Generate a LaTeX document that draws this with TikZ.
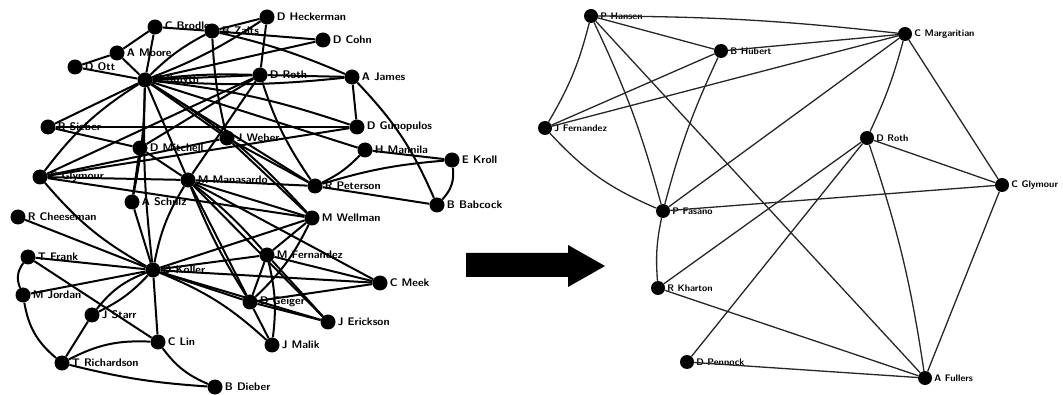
\documentclass[tikz,border=0pt]{standalone}
\usepackage{tikz}
\usetikzlibrary{positioning,calc}

\begin{document}
\begin{tikzpicture}[x=1pt,y=-1pt]
            \tikzstyle{vert}=[circle, fill=black,
            inner sep=0pt, minimum width=15pt]
            \tikzstyle{lft}=[line width=2pt, black]
            \tikzstyle{rgt}=[line width=1.3pt, black!85]
            \tikzstyle{every label}=[font=\fontsize{11}{12}\selectfont\sffamily\bfseries,
            inner sep=1pt, label distance=1pt]
            \useasboundingbox (0,0) rectangle (1063,395);
            % left network
            \node[vert, label=right:C Brodley]   (cb) at (155,27) {};
            \node[vert, label=right:B Zalts]     (bz) at (212,31) {};
            \node[vert, label=right:D Heckerman] (dh) at (267,17) {};
            \node[vert, label=right:D Cohn]      (dc) at (323,40) {};
            \node[vert, label=right:A Moore]     (aa) at (117,53) {};
            \node[vert, label=right:D Ott]       (do) at (75,67) {};
            \node[vert, label=right:P Smyth]     (h1) at (145,80) {};
            \node[vert, label=right:D Roth]      (dr) at (260,75) {};
            \node[vert, label=right:A James]     (aj) at (352,77) {};
            \node[vert, label=right:R Sieber]    (rs) at (48,127) {};
            \node[vert, label=right:D Mitchell]  (dm) at (140,148) {};
            \node[vert, label=right:J Weber]     (jw) at (227,138) {};
            \node[vert, label=right:D Gunopulos] (dg) at (357,127) {};
            \node[vert, label=right:H Mannila]   (hm) at (365,150) {};
            \node[vert, label=right:E Kroll]     (ek) at (452,160) {};
            \node[vert, label=right:B Babcock]   (bb) at (437,205) {};
            \node[vert, label=right:C Glymour]   (cg) at (40,177) {};
            \node[vert, label=right:M Manasardo] (h2) at (188,180) {};
            \node[vert, label=right:A Schulz]    (as) at (132,202) {};
            \node[vert, label=right:R Peterson]  (rp) at (315,186) {};
            \node[vert, label=right:R Cheeseman] (rc) at (18,217) {};
            \node[vert, label=right:M Wellman]   (mw) at (312,218) {};
            \node[vert, label=right:T Frank]     (tf) at (28,257) {};
            \node[vert, label=right:D Koller]    (h3) at (153,270) {};
            \node[vert, label=right:M Fernandez] (mf) at (267,255) {};
            \node[vert, label=right:C Meek]      (cm) at (380,283) {};
            \node[vert, label=right:M Jordan]    (mj) at (23,295) {};
            \node[vert, label=right:D Geiger]    (dx) at (250,302) {};
            \node[vert, label=right:J Erickson]  (je) at (328,322) {};
            \node[vert, label=right:J Starr]     (js) at (92,315) {};
            \node[vert, label=right:C Lin]       (cl) at (158,342) {};
            \node[vert, label=right:J Malik]     (jm) at (272,345) {};
            \node[vert, label=right:T Richardson] (tr) at (62,363) {};
            \node[vert, label=right:B Dieber]    (bd) at (215,387) {};
            \path[lft]
            (h1) edge (cb) (h1) edge (aa) (h1) edge (do)
            (h1) edge [bend left=8] (bz) (h1) edge [bend right=6] (dh)
            (h1) edge (dc) (h1) edge (dr) (h1) edge [bend left=4] (dr)
            (h1) edge [bend right=5] (aj) (h1) edge (rs)
            (h1) edge [bend right=10] (cg) (h1) edge (jw)
            (h1) edge [bend left=6] (dg) (h1) edge (hm) (h1) edge (rp)
            (h1) edge [bend left=8] (mw) (h1) edge (h2)
            (h1) edge [bend left=5] (as) (h1) edge [bend right=4] (h3)
            (aa) edge (cb) (do) edge (aa) (cb) edge (bz)
            (bz) edge (dh) (bz) edge (dc) (bz) edge [bend left=5] (aj)
            (bz) edge [bend right=5] (jw)
            (dh) edge (dr) (dr) edge (aj) (dr) edge [bend right=8] (rp)
            (dr) edge (cg) (dr) edge (dm) (dr) edge (h2)
            (aj) edge (dg) (aj) edge [bend left=10] (bb)
            (dg) edge (cg) (dg) edge (rs)
            (hm) edge [bend left=10] (rp) (hm) edge (ek)
            (ek) edge [bend left=25] (bb) (ek) edge [bend right=6] (rp)
            (rp) edge (bb) (rp) edge (jw) (rp) edge (h2)
            (jw) edge (mw) (rs) edge (dm) (dm) edge (h2) (dm) edge (as)
            (cg) edge (h2) (cg) edge (jw) (cg) edge [bend right=10] (h3)
            (cg) edge (mw)
            (h2) edge (mw) (h2) edge [bend left=5] (mf) (h2) edge (dx)
            (h2) edge [bend right=5] (dx) (h2) edge (cm)
            (h2) edge [bend right=10] (h3) (h2) edge (je)
            (mw) edge (mf) (mw) edge (h3) (mw) edge [bend left=10] (dx)
            (h3) edge (rc) (h3) edge (as) (h3) edge (tf) (h3) edge (mj)
            (h3) edge [bend right=15] (js) (h3) edge [bend left=10] (js)
            (h3) edge (cl) (h3) edge (mf) (h3) edge (dx) (h3) edge (cm)
            (h3) edge (je) (h3) edge [bend left=10] (jm)
            (mf) edge (cm) (mf) edge (dx) (mf) edge [bend left=10] (jm)
            (mf) edge (je) (dx) edge (cm) (dx) edge (je) (dx) edge (jm)
            (tf) edge [bend right=30] (mj) (tf) edge (cl)
            (mj) edge [bend right=20] (tr) (js) edge (tr)
            (tr) edge [bend left=15] (cl) (tr) edge [bend right=5] (bd)
            (cl) edge [bend right=15] (bd);
            % arrow
            \fill (466,253) -- (568,253) -- (568,245) -- (605,266)
            -- (568,287) -- (568,277) -- (466,277) -- cycle;
            % right network
            \begin{scope}[every label/.style={font=\fontsize{9.5}{11}\selectfont\sffamily\bfseries,
            inner sep=1pt, label distance=1pt}]
            \node[vert, minimum width=14pt, label=right:P Hansen]      (ra) at (591,16) {};
            \node[vert, minimum width=14pt, label=right:B Hubert]      (rb) at (721,51) {};
            \node[vert, minimum width=14pt, label=right:C Margaritian] (rc) at (905,34) {};
            \node[vert, minimum width=14pt, label=right:J Fernandez]   (rd) at (545,128) {};
            \node[vert, minimum width=14pt, label=right:D Roth]        (re) at (867,138) {};
            \node[vert, minimum width=14pt, label=right:C Glymour]     (rf) at (1002,185) {};
            \node[vert, minimum width=14pt, label=right:P Fasano]      (rg) at (663,211) {};
            \node[vert, minimum width=14pt, label=right:R Kharton]     (rh) at (658,288) {};
            \node[vert, minimum width=14pt, label=right:D Pennock]     (ri) at (687,362) {};
            \node[vert, minimum width=14pt, label=right:A Fullers]     (rj) at (925,378) {};
            \end{scope}
            \path[rgt]
            (ra) edge [bend left=3] (rc) (ra) edge (rb)
            (ra) edge [bend left=8] (rd) (ra) edge [bend left=5] (rg)
            (ra) edge (rj)
            (rb) edge (rc) (rb) edge (rd) (rb) edge [bend right=5] (rg)
            (rc) edge (rd) (rc) edge (rg) (rc) edge [bend left=5] (re)
            (rc) edge (rf)
            (re) edge (rf) (re) edge (rh) (re) edge (ri)
            (re) edge [bend left=5] (rj)
            (rf) edge (rj) (rf) edge (rg)
            (rd) edge [bend right=12] (rg) (rg) edge [bend right=8] (rh)
            (rh) edge (rj) (ri) edge (rj);
        \end{tikzpicture}
\end{document}
